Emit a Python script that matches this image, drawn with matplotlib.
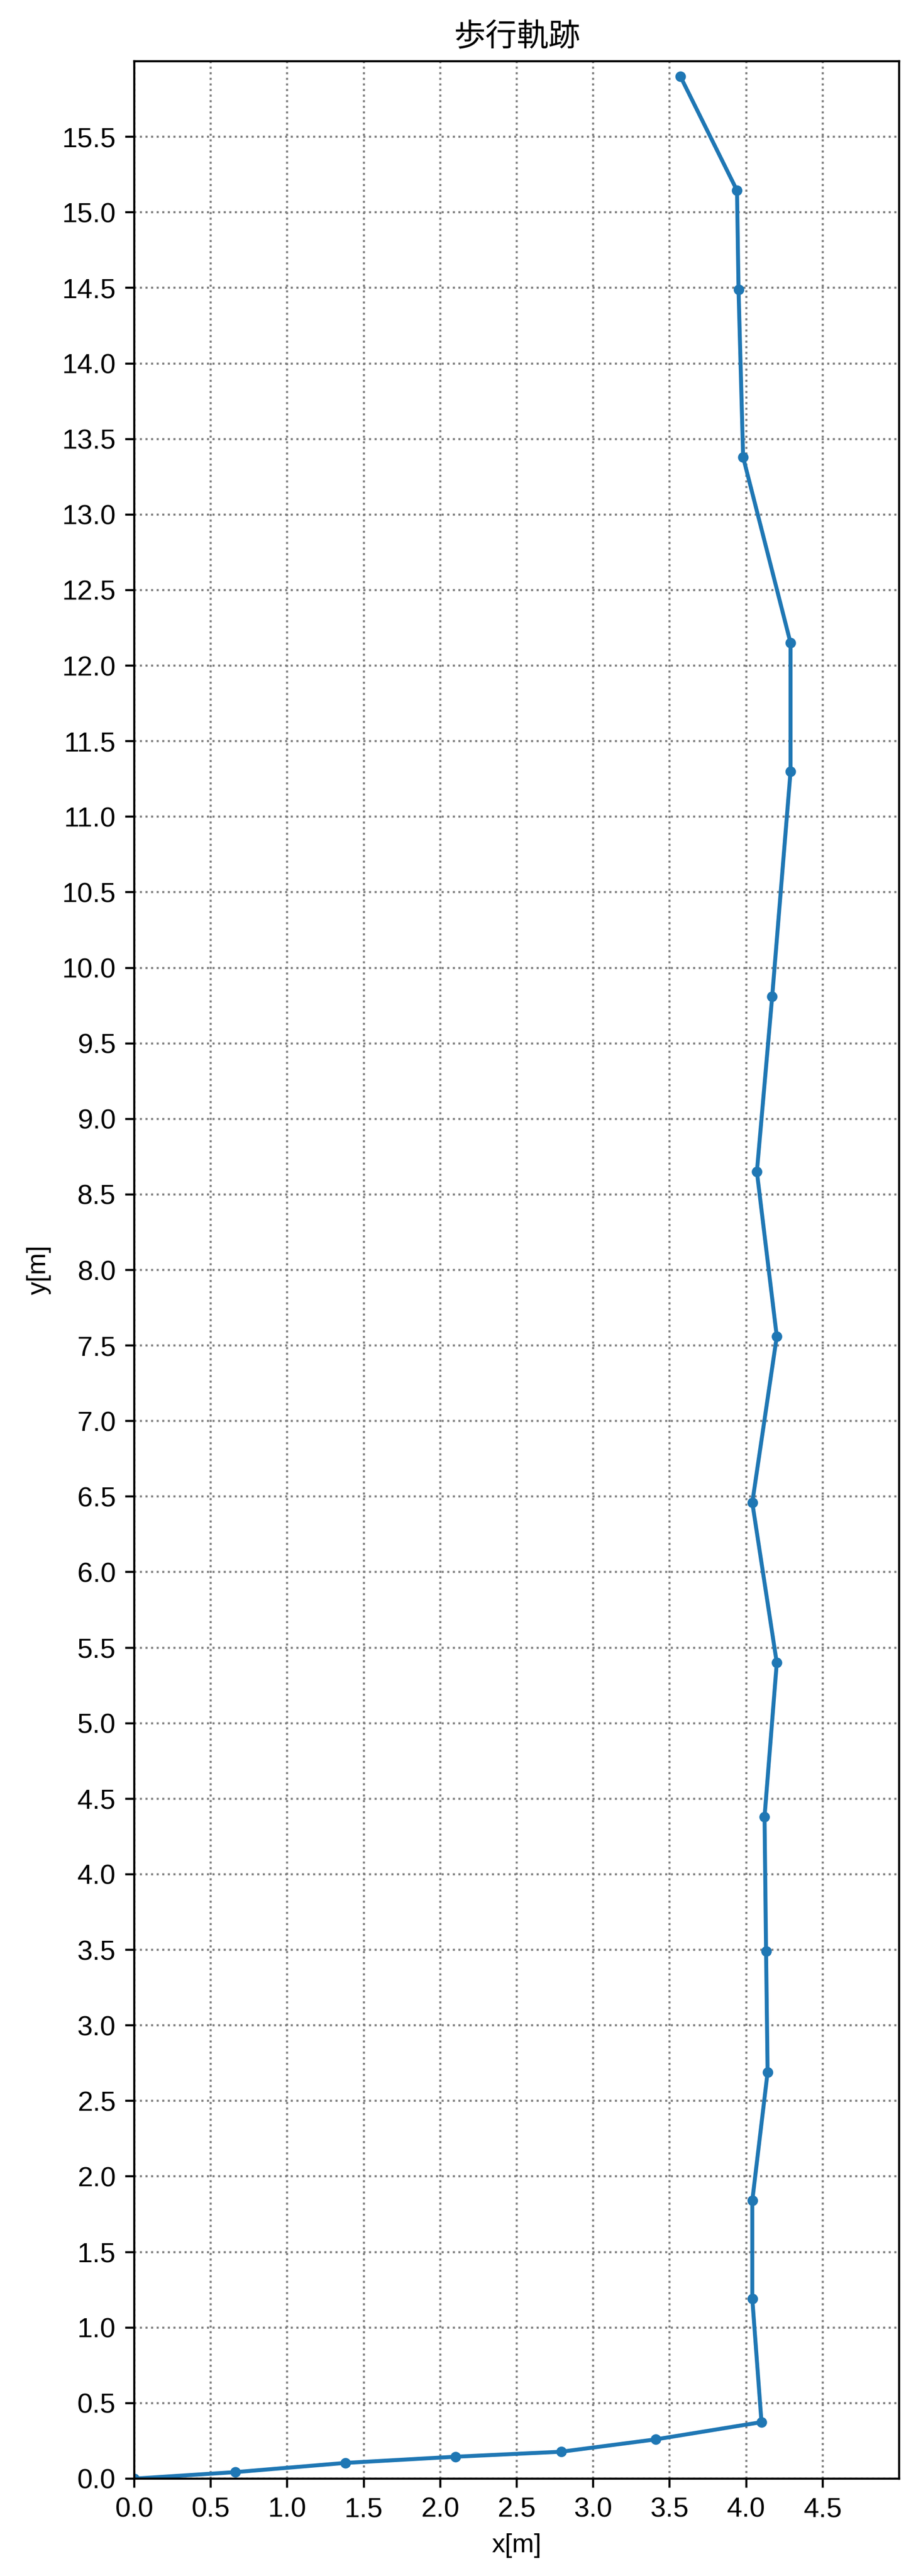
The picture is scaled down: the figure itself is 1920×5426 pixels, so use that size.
import matplotlib
matplotlib.use('Agg')
import matplotlib.pyplot as plt
import numpy as np

plt.rcParams['font.family'] = ['Liberation Sans', 'Noto Sans CJK JP', 'DejaVu Sans']

# walking trajectory points [m]
x_pos = [0.0, 0.66, 1.38, 2.10, 2.79, 3.41, 4.10, 4.04, 4.04, 4.14, 4.13, 4.12,
         4.20, 4.04, 4.20, 4.07, 4.17, 4.29, 4.29, 3.98, 3.95, 3.94, 3.57]
y_pos = [0.0, 0.043, 0.104, 0.145, 0.178, 0.26, 0.374, 1.19, 1.84, 2.69, 3.49, 4.38,
         5.40, 6.46, 7.56, 8.65, 9.81, 11.30, 12.15, 13.38, 14.49, 15.145, 15.90]

x_ticks = np.arange(0, 5, 0.5)
y_ticks = np.arange(0, 16, 0.5)

fig = plt.figure(figsize=(4.8, 13.565), dpi=400)
ax = fig.add_axes([0.1474, 0.0378, 0.8396, 0.9384])

ax.plot(x_pos, y_pos, marker='.', color='#1f77b4')  # trajectory

ax.set_xlim(0, 5)
ax.set_ylim(0, 16)
ax.set_xticks(x_ticks)
ax.set_yticks(y_ticks)
ax.tick_params(labelsize=10.5)
ax.grid(True, linestyle=':', color='gray', linewidth=0.8)

ax.set_title('歩行軌跡', family=['Noto Sans CJK JP', 'DejaVu Sans'])
ax.set_xlabel('x[m]')
ax.set_ylabel('y[m]')

fig.savefig('out.png', dpi=400)
